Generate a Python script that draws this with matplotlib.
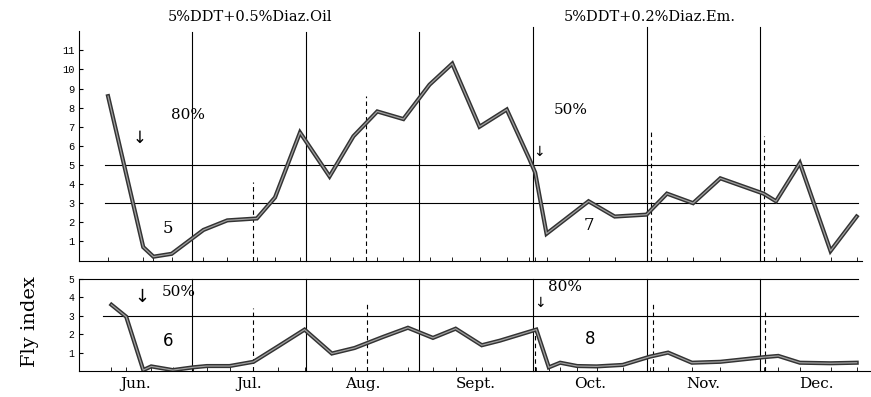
import matplotlib.pyplot as plt
import numpy as np

# x in months from 1 June (0 = Jun 1, 1 = Jul 1, ...)
months = ['Jun.', 'Jul.', 'Aug.', 'Sept.', 'Oct.', 'Nov.', 'Dec.']

# upper panel (plots 5 and 7)
x_top = [0.26, 0.57, 0.66, 0.82, 1.10, 1.31, 1.57, 1.73, 1.95, 2.21, 2.42, 2.63, 2.86,
         3.09, 3.29, 3.53, 3.77, 3.97, 4.02, 4.12, 4.49, 4.72, 5.00, 5.18, 5.41, 5.65,
         6.03, 6.14, 6.35, 6.62, 6.85]
y_top = [8.6, 0.7, 0.2, 0.35, 1.6, 2.1, 2.2, 3.3, 6.7, 4.4, 6.5, 7.8, 7.4,
         9.2, 10.3, 7.0, 7.9, 5.3, 4.6, 1.4, 3.1, 2.3, 2.4, 3.5, 3.0, 4.3,
         3.5, 3.1, 5.1, 0.5, 2.3]

# lower panel (plots 6 and 8)
x_low = [0.29, 0.42, 0.57, 0.64, 0.83, 1.01, 1.13, 1.33, 1.54, 1.76, 1.99, 2.23, 2.43,
         2.68, 2.90, 3.12, 3.32, 3.55, 3.71, 4.03, 4.14, 4.24, 4.39, 4.56, 4.79, 5.03,
         5.19, 5.40, 5.65, 6.03, 6.16, 6.35, 6.62, 6.85]
y_low = [3.6, 2.95, 0.05, 0.25, 0.05, 0.2, 0.27, 0.27, 0.5, 1.35, 2.25, 0.95, 1.25,
         1.85, 2.35, 1.8, 2.3, 1.4, 1.65, 2.25, 0.2, 0.45, 0.27, 0.25, 0.33, 0.78,
         1.0, 0.45, 0.5, 0.75, 0.82, 0.45, 0.42, 0.45]

plt.rcParams['font.family'] = ['DejaVu Serif']
mono = ['Liberation Mono', 'DejaVu Sans Mono']
arrow_font = ['DejaVu Sans']

fig = plt.figure(figsize=(8.71, 3.97), dpi=100)
ax1 = fig.add_axes([78.5 / 871, (397 - 260.5) / 397, 1 - 78.5 / 871, 225.5 / 397])
ax2 = fig.add_axes([78.5 / 871, (397 - 371) / 397, 1 - 78.5 / 871, 92 / 397])

xmax = (871 - 78.5) / 113.6
lw = 0.8


def draw_series(ax, x, y):
    ax.plot(x, y, color='#333333', lw=3.0, solid_joinstyle='miter', zorder=5)
    ax.plot(x, y, color='#a0a0a0', lw=0.9, zorder=6)


# ---- upper panel ----
ax1.set_xlim(0, xmax)
ax1.set_ylim(0, 11.8)
for s in ['top', 'right']:
    ax1.spines[s].set_visible(False)
ax1.spines['left'].set_bounds(0, 12.0)
ax1.spines['bottom'].set_bounds(0, 6.9)
ax1.set_yticks(range(1, 12))
ax1.set_yticklabels([str(v) for v in range(1, 12)], family=mono)
ax1.tick_params(axis='y', direction='in', length=3, labelsize=7.5, pad=3)
ax1.set_xticks(x_top, minor=True)
ax1.set_xticks([])
ax1.tick_params(axis='x', which='minor', direction='in', length=3)

for v in [5, 3]:
    ax1.plot([0.23, 6.86], [v, v], color='k', lw=lw)
for m in range(1, 7):
    ax1.plot([m, m], [0, 11.95 if m < 4 else 12.2], color='k', lw=lw, clip_on=False)
for xd, top in [(1.54, 4.1), (2.53, 8.6), (5.04, 6.7), (6.03, 6.5)]:
    ax1.plot([xd, xd], [0, top], color='k', lw=lw, ls=(0, (4, 3)))

draw_series(ax1, x_top, y_top)
ax1.text(0.54, 6.4, '\u2193', fontsize=12, ha='center', va='center', family=arrow_font)
ax1.text(0.96, 7.6, '80%', fontsize=11, ha='center', va='center')
ax1.text(0.79, 1.7, '5', fontsize=12, ha='center', va='center')
ax1.text(4.33, 7.85, '50%', fontsize=11, ha='center', va='center')
ax1.text(4.05, 5.7, '\u2193', fontsize=10, ha='center', va='center', family=arrow_font)
ax1.text(4.49, 1.85, '7', fontsize=12, ha='center', va='center')

fig.text(250 / 871, 1 - 17 / 397, '5%DDT+0.5%Diaz.Oil', fontsize=10.5, ha='center', va='center')
fig.text(650 / 871, 1 - 17 / 397, '5%DDT+0.2%Diaz.Em.', fontsize=10.5, ha='center', va='center')

# ---- lower panel ----
ax2.set_xlim(0, xmax)
ax2.set_ylim(0, 5.0)
for s in ['top', 'right']:
    ax2.spines[s].set_visible(False)
ax2.spines['left'].set_bounds(0, 5.0)
ax2.set_yticks(range(1, 6))
ax2.set_yticklabels([str(v) for v in range(1, 6)], family=mono)
ax2.tick_params(axis='y', direction='in', length=3, labelsize=7, pad=3)
ax2.set_xticks([m + 0.5 for m in range(7)])
ax2.set_xticklabels(months, fontsize=11)
ax2.tick_params(axis='x', which='major', length=0, pad=4)
ax2.set_xticks(x_low, minor=True)
ax2.tick_params(axis='x', which='minor', direction='in', length=3)

ax2.plot([0, 6.86], [5, 5], color='k', lw=lw, clip_on=False)
ax2.plot([0.22, 6.86], [3, 3], color='k', lw=lw)
for m in range(1, 7):
    ax2.plot([m, m], [0, 5], color='k', lw=lw, clip_on=False)
for xd, top in [(1.54, 3.4), (2.54, 3.7), (4.02, 2.2), (5.06, 3.75), (6.04, 3.3)]:
    ax2.plot([xd, xd], [0, top], color='k', lw=lw, ls=(0, (4, 3)))

draw_series(ax2, x_low, y_low)
ax2.text(0.56, 4.05, '\u2193', fontsize=13, ha='center', va='center', family=arrow_font)
ax2.text(0.88, 4.3, '50%', fontsize=11, ha='center', va='center')
ax2.text(0.79, 1.63, '6', fontsize=12, ha='center', va='center', family=arrow_font)
ax2.text(4.28, 4.55, '80%', fontsize=11, ha='center', va='center')
ax2.text(4.06, 3.7, '\u2193', fontsize=10, ha='center', va='center', family=arrow_font)
ax2.text(4.50, 1.74, '8', fontsize=12, ha='center', va='center', family=arrow_font)

fig.text(30 / 871, 1 - 322 / 397, 'Fly index', fontsize=14, rotation=90, ha='center', va='center')

fig.savefig('out.png', dpi=100)
